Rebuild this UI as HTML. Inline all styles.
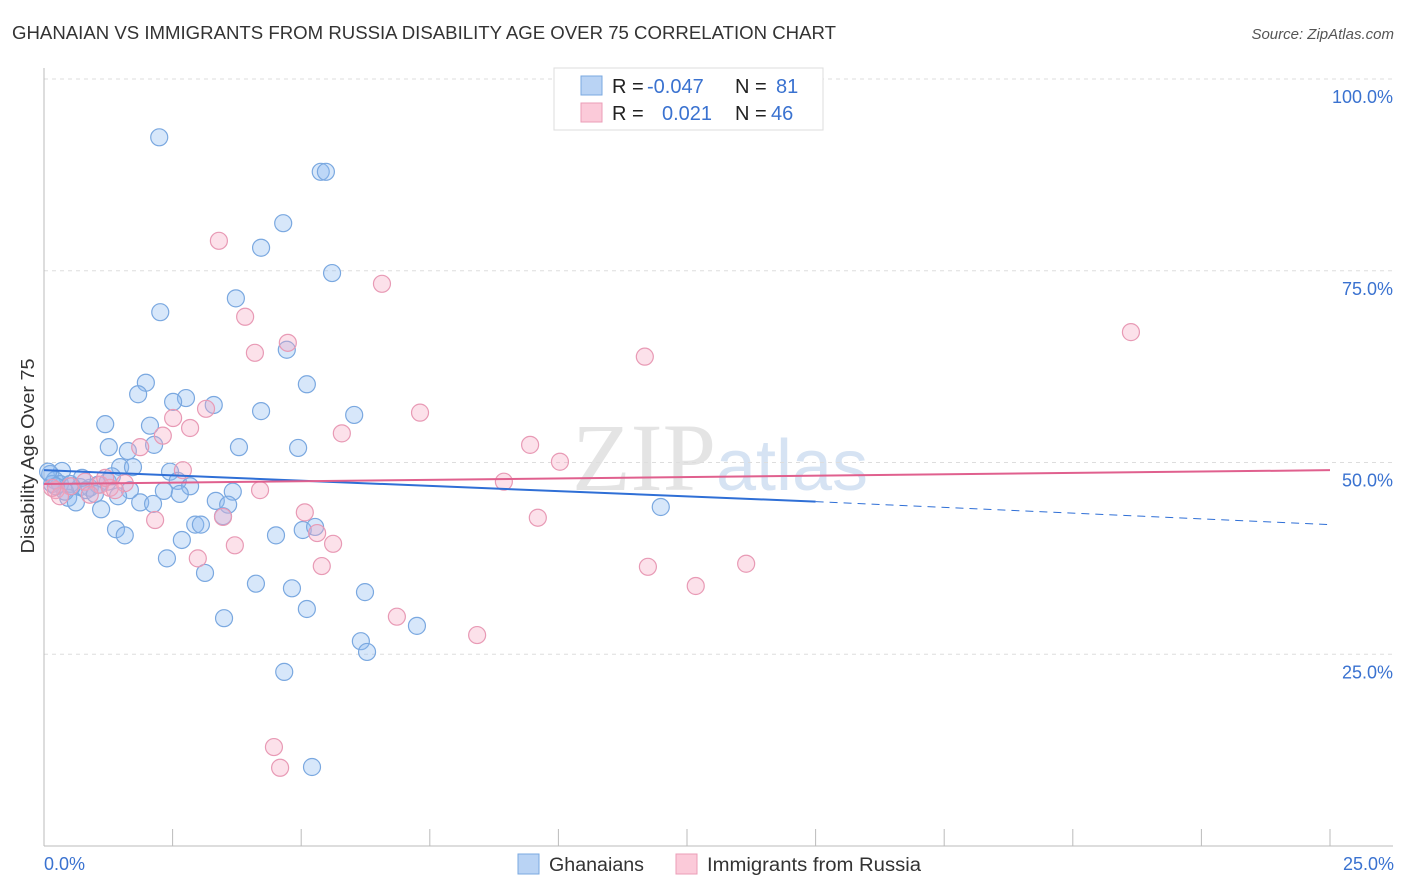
<!DOCTYPE html>
<html><head><meta charset="utf-8"><style>
body{margin:0;background:#fff;width:1406px;height:892px;overflow:hidden;font-family:"Liberation Sans",sans-serif}
svg{position:absolute;left:0;top:0}
</style></head><body>
<svg id="chart" width="1406" height="892">
<text x="12" y="39" font-size="18" fill="#333" textLength="824" lengthAdjust="spacingAndGlyphs">GHANAIAN VS IMMIGRANTS FROM RUSSIA DISABILITY AGE OVER 75 CORRELATION CHART</text>
<text x="1394" y="39" font-size="15" fill="#555" font-style="italic" text-anchor="end">Source: ZipAtlas.com</text>
<text x="720" y="490" font-size="96" fill="#e4e4e4" text-anchor="middle" font-family="Liberation Serif,serif">ZIP<tspan fill="#d6e3f3" font-family="Liberation Sans,sans-serif" font-size="72">atlas</tspan></text>
<g id="grid"></g><g id="axes"></g><g id="marks"></g>
<text transform="translate(34,456) rotate(-90)" font-size="18" fill="#333" text-anchor="middle" textLength="195" lengthAdjust="spacingAndGlyphs">Disability Age Over 75</text>
<text x="44" y="870" font-size="18" fill="#3a72d0">0.0%</text>
<text x="1394" y="870" font-size="18" fill="#3a72d0" text-anchor="end">25.0%</text>
<g>
<rect x="554" y="68" width="269" height="62" fill="#fff" stroke="#ddd"/>
<rect x="581" y="76" width="21" height="19" fill="#b9d3f4" stroke="#7aa8e0"/>
<rect x="581" y="103" width="21" height="19" fill="#fbcad9" stroke="#eb9db7"/>
<text x="612" y="93" font-size="20" fill="#222">R =<tspan x="647" fill="#3a72d0">-0.047</tspan><tspan x="735">N =</tspan><tspan x="776" fill="#3a72d0">81</tspan></text>
<text x="612" y="120" font-size="20" fill="#222">R =<tspan x="662" fill="#3a72d0">0.021</tspan><tspan x="735">N =</tspan><tspan x="771" fill="#3a72d0">46</tspan></text>
</g>
<g>
<rect x="518" y="854" width="21" height="20" fill="#b9d3f4" stroke="#7aa8e0"/>
<text x="549" y="871" font-size="19" fill="#333" textLength="95" lengthAdjust="spacingAndGlyphs">Ghanaians</text>
<rect x="676" y="854" width="21" height="20" fill="#fbcad9" stroke="#eb9db7"/>
<text x="707" y="871" font-size="19" fill="#333" textLength="214" lengthAdjust="spacingAndGlyphs">Immigrants from Russia</text>
</g>
</svg>
<script>
const yTicks=[25,50,75,100];
const yTickLabels=["25.0%","50.0%","75.0%","100.0%"];
const xTicks=[0,2.5,5,7.5,10,12.5,15,17.5,20,22.5,25];
const blueX=[2.24,5.38,5.48,4.65,4.22,5.60,3.73,2.26,4.72,1.98,5.11,1.83,2.76,2.51,3.30,4.22,6.03,1.19,2.06,1.26,2.14,3.79,4.94,1.63,2.45,1.48,1.73,0.35,0.12,0.21,0.31,0.51,0.70,0.89,1.05,1.24,1.67,1.44,2.33,2.60,2.84,2.64,3.67,3.34,3.58,1.87,2.12,0.47,0.62,1.11,3.48,2.94,3.05,1.40,1.57,4.51,5.03,5.27,2.68,2.39,3.13,4.12,4.82,6.24,5.11,3.50,7.25,6.16,6.28,4.67,5.21,11.99,0.82,0.41,0.16,0.08,0.99,1.32,0.74,0.54,0.23];
const blueY=[92.4,87.9,87.9,81.2,78.0,74.7,71.4,69.6,64.7,60.4,60.2,58.9,58.4,57.9,57.5,56.7,56.2,55.0,54.8,52.0,52.3,52.0,51.9,51.5,48.8,49.4,49.4,48.9,48.5,47.7,47.2,47.2,46.8,46.7,47.1,47.5,46.4,45.6,46.3,47.6,46.9,45.9,46.2,45.0,44.5,44.8,44.6,45.4,44.8,43.9,43.0,41.9,41.9,41.3,40.5,40.5,41.2,41.6,39.9,37.5,35.6,34.2,33.6,33.1,30.9,29.7,28.7,26.7,25.3,22.7,10.3,44.2,46.4,46.2,47.2,48.8,45.9,48.2,48.0,46.9,46.9];
const pinkX=[3.40,6.57,3.91,4.74,4.10,11.68,21.13,3.15,7.31,2.51,2.84,5.79,2.31,9.45,1.87,10.03,2.70,8.94,4.20,5.07,3.48,9.60,2.16,5.31,5.62,3.71,2.99,5.40,11.74,13.65,12.67,6.86,8.42,4.47,4.59,0.23,0.51,0.80,1.09,1.28,0.31,1.57,1.38,0.16,0.89,1.19];
const pinkY=[78.9,73.3,69.0,65.6,64.3,63.8,67.0,57.0,56.5,55.8,54.5,53.8,53.5,52.3,52.0,50.1,49.0,47.5,46.4,43.5,42.9,42.8,42.5,40.8,39.4,39.2,37.5,36.5,36.4,36.8,33.9,29.9,27.5,12.9,10.2,46.4,46.9,47.5,47.1,46.7,45.6,47.3,46.4,46.7,45.8,48.0];
const blueTrendX=[0,15,25];
const blueTrendY=[49.0,44.9,41.9];
const pinkTrendX=[0,25];
const pinkTrendY=[47.2,49.0];

const NS="http://www.w3.org/2000/svg";
const X0=44,X1=1330,Y0=846,Y100=79;
const sx=v=>X0+(X1-X0)*v/25;
const sy=v=>Y0-(Y0-Y100)*v/100;
function mk(tag,attrs,parent){const e=document.createElementNS(NS,tag);for(const k in attrs)e.setAttribute(k,attrs[k]);document.getElementById(parent).appendChild(e);return e;}

yTicks.forEach((t,i)=>{
  const l=mk('line',{x1:X0,x2:1393,y1:sy(t),y2:sy(t),stroke:'#ddd','stroke-dasharray':'4,4'},'grid');
  
  
  const tx=mk('text',{x:1393,y:sy(t)+24,'font-size':18,fill:'#3a72d0','text-anchor':'end'},'grid');
  tx.textContent=yTickLabels[i];
  
  
});
const ya=mk('line',{x1:X0,x2:X0,y1:68,y2:Y0,stroke:'#bbb'},'axes');


const xa=mk('line',{x1:X0,x2:1393,y1:Y0,y2:Y0,stroke:'#bbb'},'axes');


xTicks.forEach(t=>{
  const l=mk('line',{x1:sx(t),x2:sx(t),y1:829,y2:Y0,stroke:'#bbb'},'axes');
  
  
});
function dots(xs,ys,fill,stroke,name){
  xs.forEach((x,i)=>{
    const c=mk('circle',{cx:sx(x),cy:sy(ys[i]),r:8.5,fill:fill,stroke:stroke,'stroke-width':1.2},'marks');
    
    
  });
}
dots(blueX,blueY,'rgba(140,185,240,0.35)','#7aa8e0','ghanaian-point');
dots(pinkX,pinkY,'rgba(245,170,195,0.35)','#e89ab5','russia-point');
const b1=mk('line',{x1:sx(blueTrendX[0]),y1:sy(blueTrendY[0]),x2:sx(blueTrendX[1]),y2:sy(blueTrendY[1]),stroke:'#2f6fd6','stroke-width':2},'marks');


const b2=mk('line',{x1:sx(blueTrendX[1]),y1:sy(blueTrendY[1]),x2:sx(blueTrendX[2]),y2:sy(blueTrendY[2]),stroke:'#2f6fd6','stroke-width':1,'stroke-dasharray':'8,6'},'marks');


const p1=mk('line',{x1:sx(pinkTrendX[0]),y1:sy(pinkTrendY[0]),x2:sx(pinkTrendX[1]),y2:sy(pinkTrendY[1]),stroke:'#e0608e','stroke-width':2},'marks');


</script>
</body></html>
